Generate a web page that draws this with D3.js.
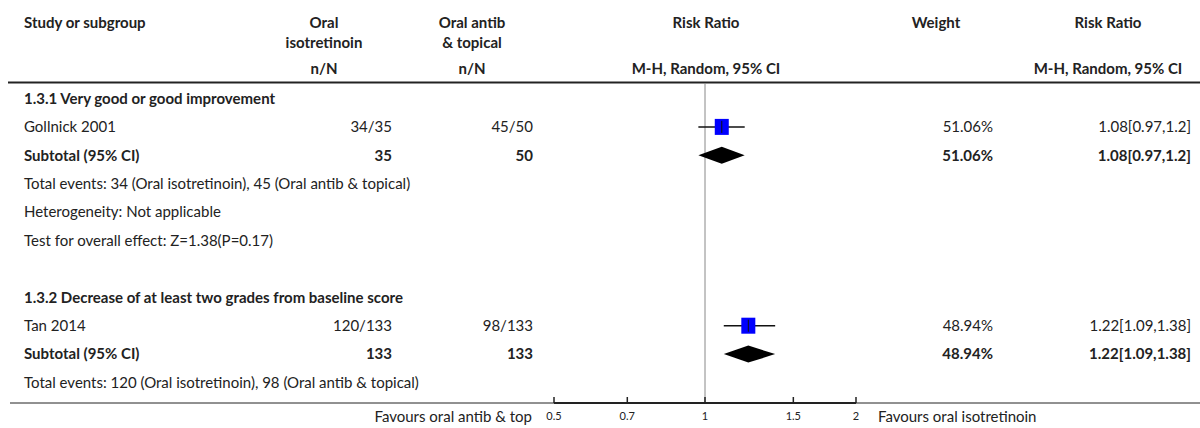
<!DOCTYPE html>
<html>
<head>
<meta charset="utf-8">
<script src="https://cdn.jsdelivr.net/npm/d3@7"></script>
<style>
body{margin:0;background:#fff;}
#forest{width:1200px;height:428px;}
text{font-family:Lato,"Noto Sans",sans-serif;fill:#222;}
</style>
</head>
<body>
<div id="forest"></div>
<script>
// ---- data ----
var studies=["Gollnick 2001","Tan 2014"];
var groups=["1.3.1 Very good or good improvement","1.3.2 Decrease of at least two grades from baseline score"];
var expEvents=[34,120];
var expTotal=[35,133];
var ctrlEvents=[45,98];
var ctrlTotal=[50,133];
var rr=[1.08,1.22];
var rrLow=[0.97,1.09];
var rrHigh=[1.2,1.38];
var weights=["51.06%","48.94%"];
var ciLabels=["1.08[0.97,1.2]","1.22[1.09,1.38]"];
var groupNotes=[
	["Total events: 34 (Oral isotretinoin), 45 (Oral antib & topical)","Heterogeneity: Not applicable","Test for overall effect: Z=1.38(P=0.17)"],
	["Total events: 120 (Oral isotretinoin), 98 (Oral antib & topical)"]
];
var ticks=[0.5,0.7,1,1.5,2];
var leftLabel="Favours oral antib & top";
var rightLabel="Favours oral isotretinoin";

var width=1200,height=428;
var fs=15;
var colStudy=24,colExp=392,colCtrl=533,colExpH=324,colCtrlH=472;
var colWeight=993,colCI=1191,colCIH=1108,colPlot=706;
var rowTop=98.5,rowStep=28.4;
var axisY=403;

var svg=d3.select("#forest").append("svg")
	.attr("width",width).attr("height",height);

var x=d3.scaleLog().domain([0.5,2]).range([554,856]);
function rowY(i){return rowTop+rowStep*i;}

function txt(g,s,xx,yy,anchor,bold,size){
	return g.append("text").attr("x",xx).attr("y",yy).attr("dy","0.35em")
		.attr("text-anchor",anchor||"start")
		.attr("font-weight",bold?"bold":"normal")
		.attr("font-size",(size||fs)+"px").text(s);
}

//==================header=======================
var head=svg.append("g").attr("class","header");
txt(head,"Study or subgroup",colStudy,23,"start",true);
txt(head,"Oral",colExpH,23,"middle",true);
txt(head,"isotretinoin",colExpH,43,"middle",true);
txt(head,"Oral antib",colCtrlH,23,"middle",true);
txt(head,"& topical",colCtrlH,43,"middle",true);
txt(head,"n/N",colExpH,69,"middle",true);
txt(head,"n/N",colCtrlH,69,"middle",true);
txt(head,"Risk Ratio",colPlot,23,"middle",true);
txt(head,"M-H, Random, 95% CI",colPlot,69,"middle",true);
txt(head,"Weight",936,23,"middle",true);
txt(head,"Risk Ratio",colCIH,23,"middle",true);
txt(head,"M-H, Random, 95% CI",colCIH,69,"middle",true);
head.append("line").attr("x1",8).attr("x2",width).attr("y1",82.5).attr("y2",82.5)
	.attr("stroke","#222").attr("stroke-width",2);

//==================null line=======================
svg.append("line").attr("x1",x(1)).attr("x2",x(1)).attr("y1",83).attr("y2",axisY)
	.attr("stroke","#888").attr("stroke-width",1);

//==================rows=======================
var body=svg.append("g").attr("class","rows");
var r=0;
for(var k=0;k<studies.length;k++){
	txt(body,groups[k],colStudy,rowY(r),"start",true);
	r++;
	// study row
	var ys=rowY(r);
	txt(body,studies[k],colStudy,ys);
	txt(body,expEvents[k]+"/"+expTotal[k],colExp,ys,"end");
	txt(body,ctrlEvents[k]+"/"+ctrlTotal[k],colCtrl,ys,"end");
	txt(body,weights[k],colWeight,ys,"end");
	txt(body,ciLabels[k],colCI,ys,"end");
	body.append("line").attr("x1",x(rrLow[k])).attr("x2",x(rrHigh[k]))
		.attr("y1",ys).attr("y2",ys).attr("stroke","#111").attr("stroke-width",1.5);
	body.append("rect").attr("x",x(rr[k])-7).attr("y",ys-8)
		.attr("width",14).attr("height",16).attr("fill","#0000ff");
	body.append("line").attr("x1",x(rr[k])).attr("x2",x(rr[k]))
		.attr("y1",ys-6).attr("y2",ys+6).attr("stroke","#111").attr("stroke-width",1);
	r++;
	// subtotal row
	var yt=rowY(r);
	txt(body,"Subtotal (95% CI)",colStudy,yt,"start",true);
	txt(body,expTotal[k],colExp,yt,"end",true);
	txt(body,ctrlTotal[k],colCtrl,yt,"end",true);
	txt(body,weights[k],colWeight,yt,"end",true);
	txt(body,ciLabels[k],colCI,yt,"end",true);
	body.append("path").attr("fill","#000")
		.attr("d","M"+x(rrLow[k])+","+yt+"L"+x(rr[k])+","+(yt-8.5)+"L"+x(rrHigh[k])+","+yt+"L"+x(rr[k])+","+(yt+8.5)+"Z");
	r++;
	for(var j=0;j<groupNotes[k].length;j++){
		txt(body,groupNotes[k][j],colStudy,rowY(r));
		r++;
	}
	r++;
}

//==================axis=======================
var ax=svg.append("g").attr("class","axis");
ax.append("line").attr("x1",10).attr("x2",width).attr("y1",axisY).attr("y2",axisY)
	.attr("stroke","#222").attr("stroke-width",1);
ax.append("line").attr("x1",x(0.5)).attr("x2",x(2)).attr("y1",axisY).attr("y2",axisY)
	.attr("stroke","#222").attr("stroke-width",2);
ax.selectAll("line.tick").data(ticks).enter().append("line").attr("class","tick")
	.attr("x1",function(d){return x(d);}).attr("x2",function(d){return x(d);})
	.attr("y1",axisY-6).attr("y2",axisY).attr("stroke","#222").attr("stroke-width",1.5);
ax.selectAll("text.tl").data(ticks).enter().append("text").attr("class","tl")
	.attr("x",function(d){return x(d);}).attr("y",416).attr("dy","0.35em")
	.attr("text-anchor","middle").attr("font-size","11px")
	.text(function(d){return d;});
txt(ax,leftLabel,532,417,"end");
txt(ax,rightLabel,878,417,"start");
</script>
</body>
</html>
